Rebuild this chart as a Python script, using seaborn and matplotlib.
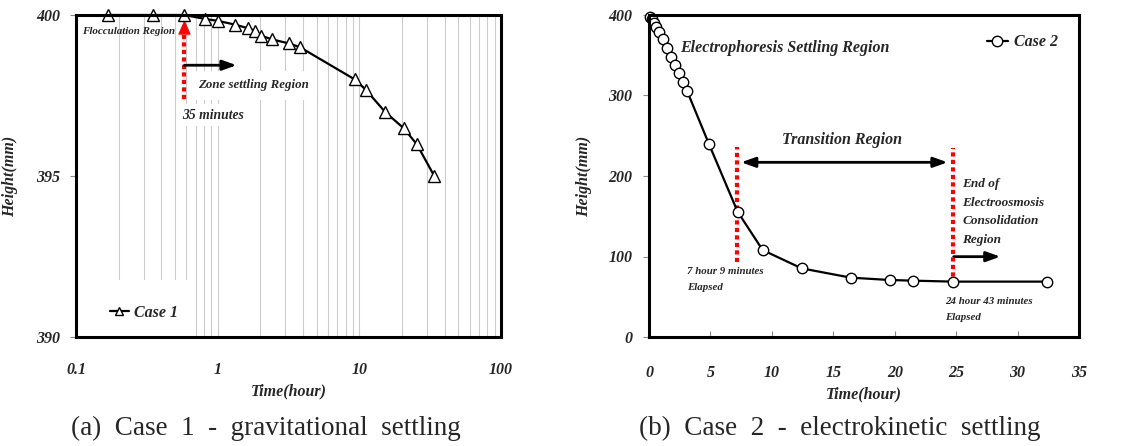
import numpy as np
import pandas as pd
import matplotlib
matplotlib.use("Agg")
import matplotlib.pyplot as plt
import matplotlib.ticker as mticker
from matplotlib.patches import Rectangle
import seaborn as sns

# ---------------- data ----------------
case1_time = [0.167, 0.35, 0.583, 0.82, 1.0, 1.33, 1.65, 1.83, 2.02, 2.43, 3.17, 3.81,
              9.27, 11.1, 15.2, 20.6, 25.5, 33.8]
case1_height = [400.0, 400.0, 400.0, 399.875, 399.82, 399.70, 399.585, 399.51, 399.36,
                399.24, 399.12, 399.0, 398.0, 397.68, 396.99, 396.48, 395.98, 395.0]

case2_time = [0.05, 0.22, 0.41, 0.57, 0.81, 1.14, 1.46, 1.79, 2.11, 2.44, 2.77, 3.09,
              4.88, 7.21, 9.25, 12.42, 16.43, 19.6, 21.5, 24.72, 32.4]
case2_height = [398.0, 395.0, 390.5, 385.5, 379.0, 370.0, 358.6, 348.0, 338.0, 327.6,
                317.0, 306.0, 239.7, 155.7, 108.0, 85.3, 73.7, 70.8, 70.0, 68.8, 68.8]

left_xticks = [0.1, 1, 10, 100]
left_xticklabels = ["0.1", "1", "10", "100"]
left_yticks = [390, 395, 400]
right_xticks = [0, 5, 10, 15, 20, 25, 30, 35]
right_yticks = [0, 100, 200, 300, 400]

captions = ["(a)  Case  1  -  gravitational  settling", "(b)  Case  2  -  electrokinetic  settling"]

# ---------------- style ----------------
sns.set_theme(style="white")
plt.rcParams["font.family"] = ["Liberation Serif", "DejaVu Serif"]
plt.rcParams["font.weight"] = "bold"
plt.rcParams["font.style"] = "italic"

W, H = 1131, 446
fig = plt.figure(figsize=(W / 100, H / 100), dpi=100)
fig.patch.set_facecolor("white")

def ax_rect(x0, y0, x1, y1):
    return [x0 / W, 1 - y1 / H, (x1 - x0) / W, (y1 - y0) / H]

ax1 = fig.add_axes(ax_rect(76, 15, 501, 337))
ax2 = fig.add_axes(ax_rect(649, 15, 1079, 337))

tickfont = dict(family="Liberation Serif", weight="bold", style="italic", size=11.5)
labelfont = dict(family="Liberation Serif", weight="bold", style="italic", size=11.5)

# ---------------- left panel ----------------
df1 = pd.DataFrame({"t": case1_time, "h": case1_height})
sns.lineplot(data=df1, x="t", y="h", ax=ax1, color="black", linewidth=1.6,
             marker="^", markersize=8, markerfacecolor="white", markeredgecolor="black",
             markeredgewidth=1.0, label="Case 1", legend=False, zorder=5, clip_on=False)
ax1.set_xscale("log")
ax1.set_xlim(0.1, 100)
ax1.set_ylim(390, 400)
ax1.xaxis.set_major_locator(mticker.FixedLocator(left_xticks))
ax1.xaxis.set_major_formatter(mticker.FixedFormatter(left_xticklabels))
ax1.xaxis.set_minor_locator(mticker.LogLocator(base=10, subs=np.arange(2, 10)))
ax1.xaxis.set_minor_formatter(mticker.NullFormatter())
ax1.set_yticks(left_yticks)
ax1.grid(True, which="both", axis="x", color="#cccccc", linewidth=0.8, zorder=0)
ax1.grid(False, axis="y")
ax1.tick_params(axis="x", which="both", length=0, pad=18)
ax1.tick_params(axis="y", which="major", direction="out", length=4, width=0.8, color="#888888", pad=7.5, left=True)
for lab in ax1.get_xticklabels() + ax1.get_yticklabels():
    lab.set(**tickfont)
ax1.set_xlabel("Time(hour)", **labelfont, labelpad=4)
ax1.set_ylabel("Height(mm)", **labelfont)
ax1.yaxis.set_label_coords(-0.136, 0.5)

# white backing behind legend
ax1.add_patch(Rectangle((0, 0), 0.27, 0.177, transform=ax1.transAxes, facecolor="white",
                        edgecolor="none", zorder=1))
leg1 = ax1.legend(loc="lower left", bbox_to_anchor=(0.045, 0.005), frameon=False,
                  handlelength=1.2, handletextpad=0.35, markerscale=0.7,
                  prop=dict(family="Liberation Serif", weight="bold", style="italic", size=11.5))

ax1.text(0.110, 399.5, "Flocculation Region", ha="left", va="center", fontsize=7.9, zorder=6)
ax1.text(0.726, 397.82, "Zone settling Region", ha="left", va="center", fontsize=9.3, zorder=6,
         bbox=dict(facecolor="white", edgecolor="none", pad=6))
ax1.text(0.56, 396.89, "35 minutes", ha="left", va="center", fontsize=9.8, zorder=6,
         bbox=dict(facecolor="white", edgecolor="none", pad=3))
# red dotted arrow at 35 min
ax1.plot([0.583, 0.583], [397.4, 399.55], color="red", linestyle=(0, (1, 0.8)), linewidth=3, zorder=4)
ax1.annotate("", xy=(0.583, 399.93), xytext=(0.583, 399.5),
             arrowprops=dict(arrowstyle="-|>,head_width=0.35,head_length=0.8", color="red",
                             lw=0.5, mutation_scale=12), zorder=4)
ax1.annotate("", xy=(1.36, 398.44), xytext=(0.583, 398.44),
             arrowprops=dict(arrowstyle="-|>,head_width=0.25,head_length=0.7", color="black",
                             lw=2, mutation_scale=12, shrinkA=0, shrinkB=0), zorder=6)

# ---------------- right panel ----------------
df2 = pd.DataFrame({"t": case2_time, "h": case2_height})
sns.lineplot(data=df2, x="t", y="h", ax=ax2, color="black", linewidth=1.6,
             marker="o", markersize=7.5, markerfacecolor="white", markeredgecolor="black",
             markeredgewidth=1.0, label="Case 2", legend=False, zorder=5, clip_on=False)
ax2.set_xlim(0, 35)
ax2.set_ylim(0, 400)
ax2.set_xticks(right_xticks)
ax2.set_yticks(right_yticks)
ax2.grid(False)
ax2.tick_params(axis="x", direction="in", length=4, width=0.8, color="#888888", pad=20, bottom=True)
ax2.tick_params(axis="y", direction="out", length=4, width=0.8, color="#888888", pad=8, left=True)
for lab in ax2.get_xticklabels() + ax2.get_yticklabels():
    lab.set(**tickfont)
ax2.set_xlabel("Time(hour)", **labelfont, labelpad=4)
ax2.set_ylabel("Height(mm)", **labelfont)
ax2.yaxis.set_label_coords(-0.133, 0.5)
ax2.legend(loc="upper right", bbox_to_anchor=(0.985, 0.985), frameon=False,
           handlelength=1.3, handletextpad=0.4,
           prop=dict(family="Liberation Serif", weight="bold", style="italic", size=11.5))

ax2.text(2.52, 358.6, "Electrophoresis Settling Region", ha="left", va="center", fontsize=11.5)
ax2.text(15.7, 245, "Transition Region", ha="center", va="center", fontsize=11.5)
ax2.plot([7.15, 7.15], [93, 236], color="red", linestyle=(0, (1, 0.8)), linewidth=3, zorder=4)
ax2.plot([24.72, 24.72], [66, 235], color="red", linestyle=(0, (1, 0.8)), linewidth=3, zorder=4)
ax2.annotate("", xy=(24.3, 217), xytext=(7.5, 217),
             arrowprops=dict(arrowstyle="<|-|>,head_width=0.25,head_length=0.7", color="black",
                             lw=2, mutation_scale=12, shrinkA=0, shrinkB=0))
ax2.text(25.5, 197, "End of\nElectroosmosis\nConsolidation\nRegion", ha="left", va="top",
         fontsize=9.5, linespacing=1.72)
ax2.annotate("", xy=(28.6, 99.8), xytext=(24.8, 99.8),
             arrowprops=dict(arrowstyle="-|>,head_width=0.25,head_length=0.7", color="black",
                             lw=2, mutation_scale=12, shrinkA=0, shrinkB=0))
ax2.text(3.07, 87, "7 hour 9 minutes\nElapsed", ha="left", va="top", fontsize=7.8, linespacing=2.0)
ax2.text(24.1, 50, "24 hour 43 minutes\nElapsed", ha="left", va="top", fontsize=7.8, linespacing=2.0)

for ax in (ax1, ax2):
    for s in ax.spines.values():
        s.set_color("black")
        s.set_linewidth(2.2)
        s.set_zorder(7)

# ---------------- captions ----------------
fig.text(266 / W, 1 - 428 / H, captions[0], ha="center", va="center",
         family="Liberation Serif", weight="normal", style="normal", fontsize=19.5)
fig.text(840 / W, 1 - 428 / H, captions[1], ha="center", va="center",
         family="Liberation Serif", weight="normal", style="normal", fontsize=19.5)

fig.savefig("out.png", dpi=100, facecolor="white")
